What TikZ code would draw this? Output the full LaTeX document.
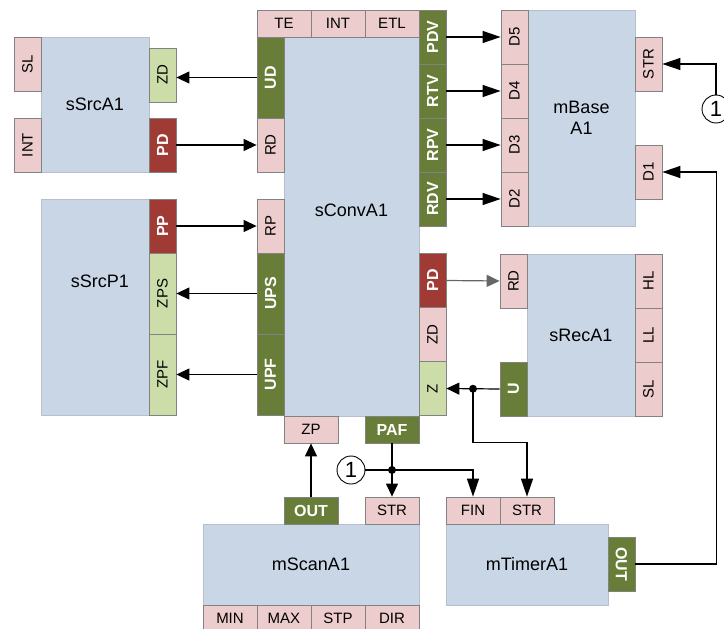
\documentclass[tikz,border=0pt]{standalone}
\usepackage{fontspec}
\setmainfont{Liberation Sans}
\usepackage{graphicx}
\usetikzlibrary{arrows.meta,calc}

\definecolor{blkblue}{RGB}{200,214,230}
\definecolor{blkedge}{RGB}{182,192,204}
\definecolor{pinpink}{RGB}{236,204,204}
\definecolor{pinedge}{RGB}{130,130,130}
\definecolor{dkgreen}{RGB}{104,126,56}
\definecolor{ltgreen}{RGB}{205,221,170}
\definecolor{dkred}{RGB}{160,58,52}

\newcommand{\vtext}[1]{\rotatebox{90}{#1}}
\newcommand{\vtextdn}[1]{\rotatebox{-90}{#1}}

\begin{document}
\begin{tikzpicture}[x=1pt,y=-1pt,
  blk/.style={rectangle,draw=blkedge,fill=blkblue,line width=0.6pt,inner sep=0pt,
    font=\fontsize{18}{21}\selectfont,align=center},
  pin/.style={rectangle,draw=pinedge,fill=pinpink,line width=0.8pt,inner sep=0pt,
    font=\fontsize{15}{17}\selectfont},
  hpin/.style={pin,minimum width=54pt,minimum height=27pt},
  vpin/.style={pin,minimum width=27pt,minimum height=54pt},
  tpin/.style={pin,minimum width=27pt,minimum height=81pt},
  outp/.style={fill=dkgreen,text=white,font=\fontsize{16}{18}\selectfont\bfseries},
  errp/.style={fill=dkred,text=white,font=\fontsize{16}{18}\selectfont\bfseries},
  zerop/.style={fill=ltgreen},
  wire/.style={line width=1.2pt,-{Triangle[length=13pt,width=12pt]}},
  lwire/.style={line width=1.2pt,-{Triangle[length=18pt,width=12pt]}},
  refc/.style={circle,draw,line width=0.9pt,minimum size=28pt,inner sep=0pt,
    font=\fontsize{22}{24}\selectfont}
]
\useasboundingbox (0,0) rectangle (724,629);

% blocks
\node[blk,minimum width=108pt,minimum height=135pt] (srcA) at (95,104.5) {sSrcA1};
\node[blk,minimum width=108pt,minimum height=216pt,
  label={[xshift=5pt,yshift=26pt,font=\fontsize{18}{21}\selectfont]center:sSrcP1}] (srcP) at (95,307) {};
\node[blk,minimum width=135pt,minimum height=379pt,
  label={[yshift=16pt,font=\fontsize{18}{21}\selectfont]center:sConvA1}] (conv) at (351.5,226.5) {};
\node[blk,minimum width=107pt,minimum height=216pt] (base) at (581.5,118) {mBase\\A1};
\node[blk,minimum width=108pt,minimum height=162pt] (rec) at (581,335) {sRecA1};
\node[blk,minimum width=216pt,minimum height=81pt] (scan) at (311,564.5) {mScanA1};
\node[blk,minimum width=162pt,minimum height=81pt] (timer) at (527,564.5) {mTimerA1};

% sSrcA1 ports
\node[vpin] (aSL) at (27.5,64) {\vtext{SL}};
\node[vpin] (aINT) at (27.5,145) {\vtext{INT}};
\node[vpin,zerop] (aZD) at (162.5,75) {\vtext{ZD}};
\node[vpin,errp] (aPD) at (162.5,145) {\vtext{PD}};

% sSrcP1 ports
\node[vpin,errp] (pPP) at (162.5,226) {\vtext{PP}};
\node[tpin,zerop] (pZPS) at (162.5,293.5) {\vtext{ZPS}};
\node[tpin,zerop] (pZPF) at (162.5,374.5) {\vtext{ZPF}};

% sConvA1 ports
\node[hpin] (cTE) at (284,23.5) {TE};
\node[hpin] (cINT) at (338,23.5) {INT};
\node[hpin] (cETL) at (392,23.5) {ETL};
\node[vpin,outp] (cPDV) at (432.5,37) {\vtext{PDV}};
\node[vpin,outp] (cRTV) at (432.5,91) {\vtext{RTV}};
\node[vpin,outp] (cRPV) at (432.5,145) {\vtext{RPV}};
\node[vpin,outp] (cRDV) at (432.5,199) {\vtext{RDV}};
\node[tpin,outp] (cUD) at (270.5,77.5) {\vtext{UD}};
\node[vpin] (cRD) at (270.5,145) {\vtext{RD}};
\node[vpin] (cRP) at (270.5,226) {\vtext{RP}};
\node[tpin,outp] (cUPS) at (270.5,293.5) {\vtext{UPS}};
\node[tpin,outp] (cUPF) at (270.5,374.5) {\vtext{UPF}};
\node[vpin,errp] (cPD) at (432.5,280.5) {\vtext{PD}};
\node[vpin] (cZD) at (432.5,334.5) {\vtext{ZD}};
\node[vpin,zerop] (cZ) at (432.5,388.5) {\vtext{Z}};
\node[hpin] (cZP) at (311,429.5) {ZP};
\node[hpin,outp] (cPAF) at (392,429.5) {PAF};

% mBase A1 ports
\node[vpin] (bD5) at (514.5,37) {\vtext{D5}};
\node[vpin] (bD4) at (514.5,91) {\vtext{D4}};
\node[vpin] (bD3) at (514.5,145) {\vtext{D3}};
\node[vpin] (bD2) at (514.5,199) {\vtext{D2}};
\node[vpin] (bSTR) at (648.5,64) {\vtext{STR}};
\node[vpin] (bD1) at (648.5,172) {\vtext{D1}};

% sRecA1 ports
\node[vpin] (rRD) at (513.5,281) {\vtext{RD}};
\node[vpin,outp] (rU) at (513.5,389) {\vtext{U}};
\node[vpin] (rHL) at (648.5,281) {\vtext{HL}};
\node[vpin] (rLL) at (648.5,335) {\vtext{LL}};
\node[vpin] (rSL) at (648.5,389) {\vtext{SL}};

% mScanA1 ports
\node[hpin,outp] (sOUT) at (311,510.5) {OUT};
\node[hpin] (sSTR) at (392,510.5) {STR};
\node[hpin] (sMIN) at (230,618.5) {MIN};
\node[hpin] (sMAX) at (284,618.5) {MAX};
\node[hpin] (sSTP) at (338,618.5) {STP};
\node[hpin] (sDIR) at (392,618.5) {DIR};

% mTimerA1 ports
\node[hpin] (tFIN) at (473,510.5) {FIN};
\node[hpin] (tSTR) at (527,510.5) {STR};
\node[vpin,outp] (tOUT) at (621.5,564) {\vtextdn{OUT}};

% links
\draw[wire] (cUD.west) -- (cUD.west -| aZD.east);
\draw[wire] (aPD.east) -- (cRD.west);
\draw[wire] (pPP.east) -- (cRP.west);
\draw[wire] (cUPS.west) -- (pZPS.east);
\draw[wire] (cUPF.west) -- (pZPF.east);
\foreach \src/\dst in {cPDV/bD5,cRTV/bD4,cRPV/bD3,cRDV/bD2}
  \draw[lwire] (\src.east) -- (\dst.west);
\draw[wire,black!60] (cPD.east) -- (rRD.west);

\coordinate (jU) at ($(rU.west)!0.5!(cZ.east)$);
\draw[wire] (rU.west) -- (cZ.east);
\draw[lwire] (jU) -- ++(0,54) -| (tSTR.north);
\fill (jU) circle (4pt);

\coordinate (jP) at ($(cPAF.south)!0.5!(sSTR.north)$);
\node[refc] (ref1) at (351,470) {1};
\draw[wire] (cPAF.south) -- (sSTR.north);
\draw[lwire] (ref1) -- (jP) -| (tFIN.north);
\fill (jP) circle (4pt);

\draw[wire] (sOUT.north) -- (cZP.south);

\draw[lwire] (tOUT.east) -- ++(81,0) |- (bD1.east);
\node[refc] (ref2) at (716,109) {1};
\draw[lwire] (ref2) |- (bSTR.east);
\end{tikzpicture}
\end{document}
